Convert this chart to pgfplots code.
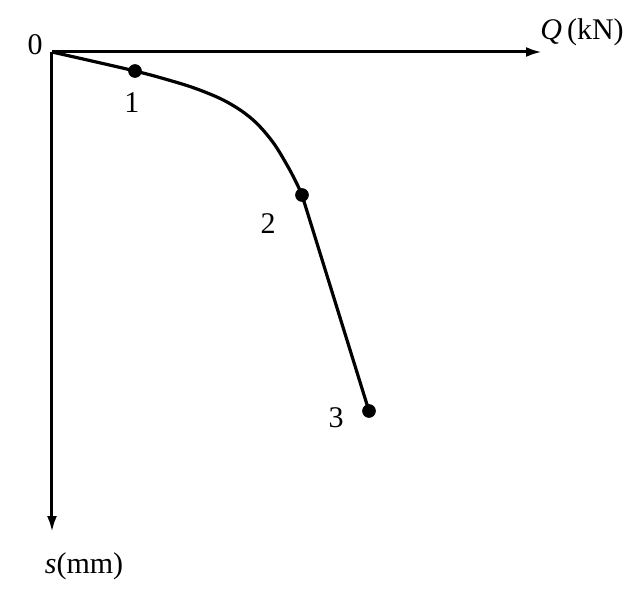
\documentclass[border=0pt]{standalone}
\usepackage{pgfplots}
\pgfplotsset{compat=1.18}
\usepackage{fontspec}
\setmainfont{Liberation Serif}
\usetikzlibrary{arrows.meta}
\newcommand{\lbl}{\fontsize{15}{18}\selectfont}
\begin{document}
\begin{tikzpicture}
\path[use as bounding box] (0,0) rectangle (322pt,294.5pt);
\begin{axis}[at={(26pt,268.5pt)}, anchor=origin,
  scale only axis, width=245pt, height=240pt,
  xmin=0, xmax=490, ymin=0, ymax=480, y dir=reverse,
  axis lines=middle,
  axis line style={line width=1.5pt, -{Latex[length=8pt,width=5pt]}},
  xtick=\empty, ytick=\empty, clip=false]
\addplot[line width=1.6pt, smooth, tension=0.6] coordinates {
 (0,0) (42,9.5) (83,19) (113,27) (145,37) (175,50) (200,67) (220,89) (235,113) (245,132) (250,143)};
\addplot[line width=1.6pt] coordinates {(250,143) (317,359)};
\addplot[only marks, mark=*, mark size=3.2pt, black] coordinates {(83,19) (250,143) (317,359)};
\node[font=\lbl] at (axis cs:-17,-7) {0};
\node[font=\lbl] at (axis cs:80,51) {1};
\node[font=\lbl] at (axis cs:216,172) {2};
\node[font=\lbl] at (axis cs:284,366) {3};
\node[font=\lbl] at (axis cs:530,-20) {\textit{Q}\,(kN)};
\node[font=\lbl] at (axis cs:32,514) {\textit{s}(mm)};
\end{axis}
\end{tikzpicture}
\end{document}
